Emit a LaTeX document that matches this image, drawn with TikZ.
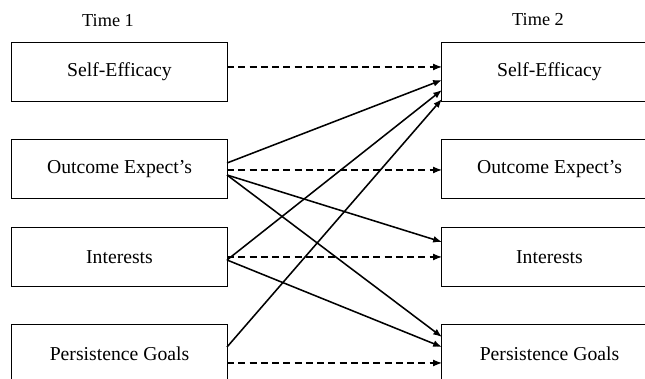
\documentclass[tikz,border=0pt]{standalone}
\usepackage{fontspec}
\setmainfont{Liberation Serif}
\usepackage{tikz}
\usetikzlibrary{arrows.meta,positioning,calc}

\begin{document}
\begin{tikzpicture}[x=0.025cm, y=0.025cm,
  box/.style={draw, line width=0.7pt, minimum width=5.375cm, minimum height=1.45cm,
              inner sep=0pt, outer sep=0pt, font=\fontsize{14}{16}\selectfont},
  head/.style={font=\fontsize{13}{15}\selectfont},
  solidlink/.style={line width=1.1pt, -{Latex[length=2.2mm, width=1.7mm]}},
  dashlink/.style={line width=0.8pt, dash pattern=on 5pt off 3pt,
                   -{Latex[length=2.2mm, width=1.7mm]}}]
  \useasboundingbox (0,0) rectangle (645,-379);
  \clip (0,0) rectangle (645,-379);
  % column headings
  \node[head] (t1) at (108,-21) {Time 1};
  \node[head] (t2) at (538,-20) {Time 2};
  % Time 1 boxes
  \node[box] (seL) at (119.5,-72)  {Self-Efficacy};
  \node[box] (oeL) at (119.5,-169) {Outcome Expect's};
  \node[box] (inL) at (119.5,-257) {Interests};
  \node[box] (pgL) at (119.5,-354) {Persistence Goals};
  % Time 2 boxes
  \node[box] (seR) at (549.5,-72)  {Self-Efficacy};
  \node[box] (oeR) at (549.5,-169) {Outcome Expect's};
  \node[box] (inR) at (549.5,-257) {Interests};
  \node[box] (pgR) at (549.5,-354) {Persistence Goals};
  % stability paths (dashed)
  \draw[dashlink] ($(seL.east)+(0,5)$) -- ($(seR.west)+(0,5)$);
  \draw[dashlink] ($(oeL.east)+(0,-1)$) -- ($(oeR.west)+(0,-1)$);
  \draw[dashlink] (inL.east) -- (inR.west);
  \draw[dashlink] ($(pgL.east)+(0,-9)$) -- ($(pgR.west)+(0,-9)$);
  % cross-lagged paths
  \draw[solidlink] ($(oeL.east)+(0,6)$)  -- ($(seR.west)+(0,-8)$);
  \draw[solidlink] ($(oeL.east)+(0,-6)$) -- ($(inR.west)+(0,15)$);
  \draw[solidlink] ($(oeL.east)+(0,-6)$) -- ($(pgR.west)+(0,17)$);
  \draw[solidlink] ($(inL.east)+(0,-3)$) -- ($(seR.west)+(0,-18)$);
  \draw[solidlink] ($(inL.east)+(0,-3)$) -- ($(pgR.west)+(0,7)$);
  \draw[solidlink] ($(pgL.east)+(0,7)$)  -- ($(seR.west)+(0,-27)$);
\end{tikzpicture}
\end{document}
